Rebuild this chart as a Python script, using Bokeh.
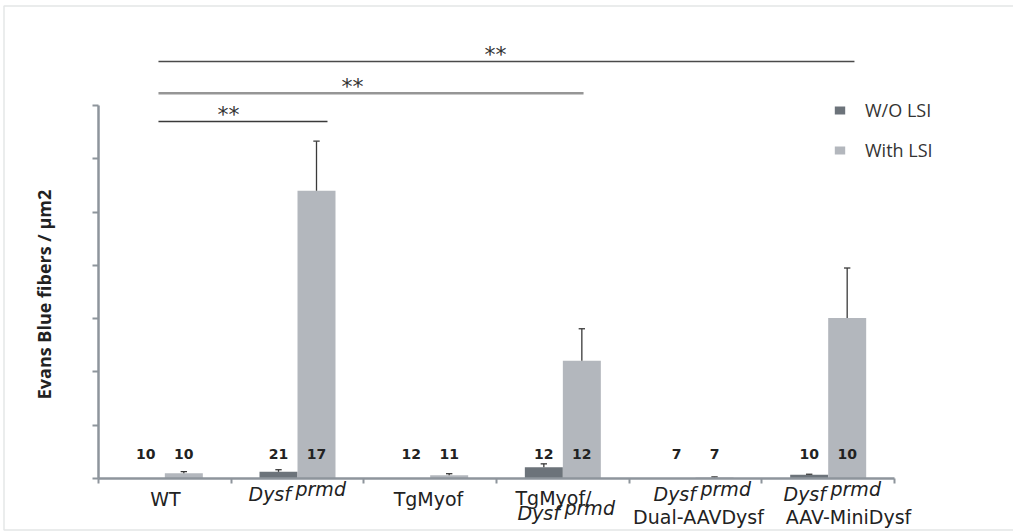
import numpy as np
from math import pi
from bokeh.plotting import figure
from bokeh.models import (ColumnDataSource, Range1d, FixedTicker, Label, Legend,
                          LegendItem, BoxAnnotation, LinearAxis)
from bokeh.transform import dodge
from bokeh.core.properties import value
from bokeh.embed import file_html
from bokeh.resources import INLINE

# ---------------- data ----------------
categories = ["WT", "Dysf prmd", "TgMyof", "TgMyof/ Dysf prmd",
              "Dysf prmd Dual-AAVDysf", "Dysf prmd AAV-MiniDysf"]
series = ["W/O LSI", "With LSI"]
without_lsi = [0.0, 0.125, 0.0, 0.21, 0.0, 0.07]
without_lsi_err = [0.0, 0.04, 0.0, 0.065, 0.0, 0.01]
with_lsi = [0.10, 5.40, 0.06, 2.21, 0.02, 3.01]
with_lsi_err = [0.03, 0.93, 0.03, 0.60, 0.01, 0.94]
n_without = [10, 21, 12, 12, 7, 10]
n_with = [10, 17, 11, 12, 7, 10]
comparisons = [(0, 1), (0, 3), (0, 5)]
comparison_marks = ["**", "**", "**"]
y_ticks = [0, 1, 2, 3, 4, 5, 6, 7]
y_label = "Evans Blue fibers / µm2"

# ---------------- style ----------------
DARK = "#6c737a"
LIGHT = "#b3b7bd"
AXIS = "#8e959c"
TXT = "#222222"
W, H = 1013, 531

# pixel helpers for annotation placement (axis origin at pixel 98, 478)
PXX = 132.67
PXY = 53.29
def dx(rx):
    return (rx - 98) / PXX
def dy(ry):
    return (478 - ry) / PXY

p = figure(width=W, height=H, output_backend="svg", toolbar_location=None, title=None,
           x_axis_type=None, y_axis_type=None,
           x_range=Range1d(dx(0), dx(W)), y_range=Range1d(dy(H), dy(0)),
           min_border=0)
p.background_fill_color = "white"
p.border_fill_color = "white"
p.outline_line_color = None
p.grid.visible = False

xaxis = LinearAxis(fixed_location=0, ticker=FixedTicker(ticks=list(range(len(categories) + 1))),
                   bounds=(0, len(categories)))
yaxis = LinearAxis(fixed_location=0, ticker=FixedTicker(ticks=y_ticks),
                   bounds=(y_ticks[0], y_ticks[-1]))
for ax in (xaxis, yaxis):
    ax.axis_line_color = AXIS
    ax.axis_line_width = 2.5
    ax.major_tick_line_color = AXIS
    ax.major_tick_line_width = 2
    ax.major_tick_in = 0
    ax.minor_tick_line_color = None
    ax.major_label_text_color = None
xaxis.major_tick_out = 5
yaxis.major_tick_out = 6
p.add_layout(xaxis, "below")
p.add_layout(yaxis, "left")

bw = 0.2864
xc = np.arange(len(categories)) + 0.5
wo = np.array(without_lsi)
wi = np.array(with_lsi)
wo_hi = wo + np.array(without_lsi_err)
wi_hi = wi + np.array(with_lsi_err)

src = ColumnDataSource(dict(x=xc, wo=wo, wi=wi,
                            n_wo=[str(v) for v in n_without],
                            n_wi=[str(v) for v in n_with]))

r1 = p.vbar(x=dodge("x", -bw / 2), top="wo", width=bw, source=src,
            fill_color=DARK, line_color=None)
r2 = p.vbar(x=dodge("x", bw / 2), top="wi", width=bw, source=src,
            fill_color=LIGHT, line_color=None)

# error bars (upper only)
cap = 0.024
for off, lo, hi, err in ((-bw / 2, wo, wo_hi, without_lsi_err), (bw / 2, wi, wi_hi, with_lsi_err)):
    m = np.array(err) > 0
    es = ColumnDataSource(dict(x=xc[m] + off, lo=lo[m], hi=hi[m]))
    p.segment(x0="x", y0="lo", x1="x", y1="hi", source=es, line_color="#3a3a3a", line_width=1.3)
    p.segment(x0=dodge("x", -cap), y0="hi", x1=dodge("x", cap), y1="hi", source=es,
              line_color="#3a3a3a", line_width=1.3)

# counts
for off, col in ((-bw / 2, "n_wo"), (bw / 2, "n_wi")):
    p.text(x=dodge("x", off), y=dy(453), text=col, source=src,
           text_font=value("DejaVu Sans"), text_font_style="bold", text_font_size="14px",
           text_color=TXT, text_align="center", text_baseline="alphabetic")

# significance brackets
ends = [0.726, 0.656, 0.698]
line_y = [dy(121), dy(92.7), dy(61)]
line_col = ["#3a3a3a", "#969696", "#4a4a4a"]
line_w = [1.5, 2.6, 1.6]
star_x = [dx(228), dx(352), dx(495)]
for k, (a, b) in enumerate(comparisons):
    x0 = a + 0.452
    x1 = b + ends[k]
    p.line(x=[x0, x1], y=[line_y[k], line_y[k]], line_color=line_col[k], line_width=line_w[k])
    p.add_layout(Label(x=star_x[k], y=line_y[k] + 7 / PXY, text=comparison_marks[k],
                       text_font="DejaVu Sans", text_font_size="22px", text_color="#333333",
                       text_align="center", text_baseline="alphabetic"))

# legend
legend = Legend(items=[LegendItem(label=series[0], renderers=[r1]),
                       LegendItem(label=series[1], renderers=[r2])],
                location=(833, 369), orientation="vertical",
                glyph_width=13, glyph_height=10, label_standoff=19, spacing=16,
                padding=0, margin=0, border_line_color=None, background_fill_alpha=0,
                label_text_font="Open Sans", label_text_font_size="18px", label_text_color="#333333",
                label_height=20)
p.add_layout(legend)

# y axis title
p.add_layout(Label(x=dx(43), y=dy(294), text=y_label, angle=pi / 2,
                   text_font="Open Sans", text_font_style="bold", text_font_size="18px",
                   text_color=TXT, text_align="center", text_baseline="middle"))

# category labels
def lab(text, rx, ry, align="center", italic=False):
    p.add_layout(Label(x=dx(rx), y=dy(ry), text=text, text_font="DejaVu Sans",
                       text_font_style="italic" if italic else "normal", text_font_size="19px",
                       text_color=TXT, text_align=align, text_baseline="alphabetic"))

def dysf(left, base):
    lab("Dysf", left, base, "left", True)
    lab("prmd", left + 47, base - 5, "left", True)

lab(categories[0], 165, 498)
dysf(248, 493)
lab(categories[2], 428, 498)
lab("TgMyof/", 515, 497, "left")
dysf(517, 512)
dysf(653, 493)
lab("Dual-AAVDysf", 698, 516)
dysf(783, 493)
lab("AAV-MiniDysf", 848, 516)

# outer frame
p.add_layout(BoxAnnotation(left=3.5, right=W + 10, top=5.5, bottom=529.5,
                           left_units="canvas", right_units="canvas",
                           top_units="canvas", bottom_units="canvas",
                           fill_color=None, line_color="#a7abb0", line_width=1.5))

open("out.html", "w").write(file_html(p, INLINE))
